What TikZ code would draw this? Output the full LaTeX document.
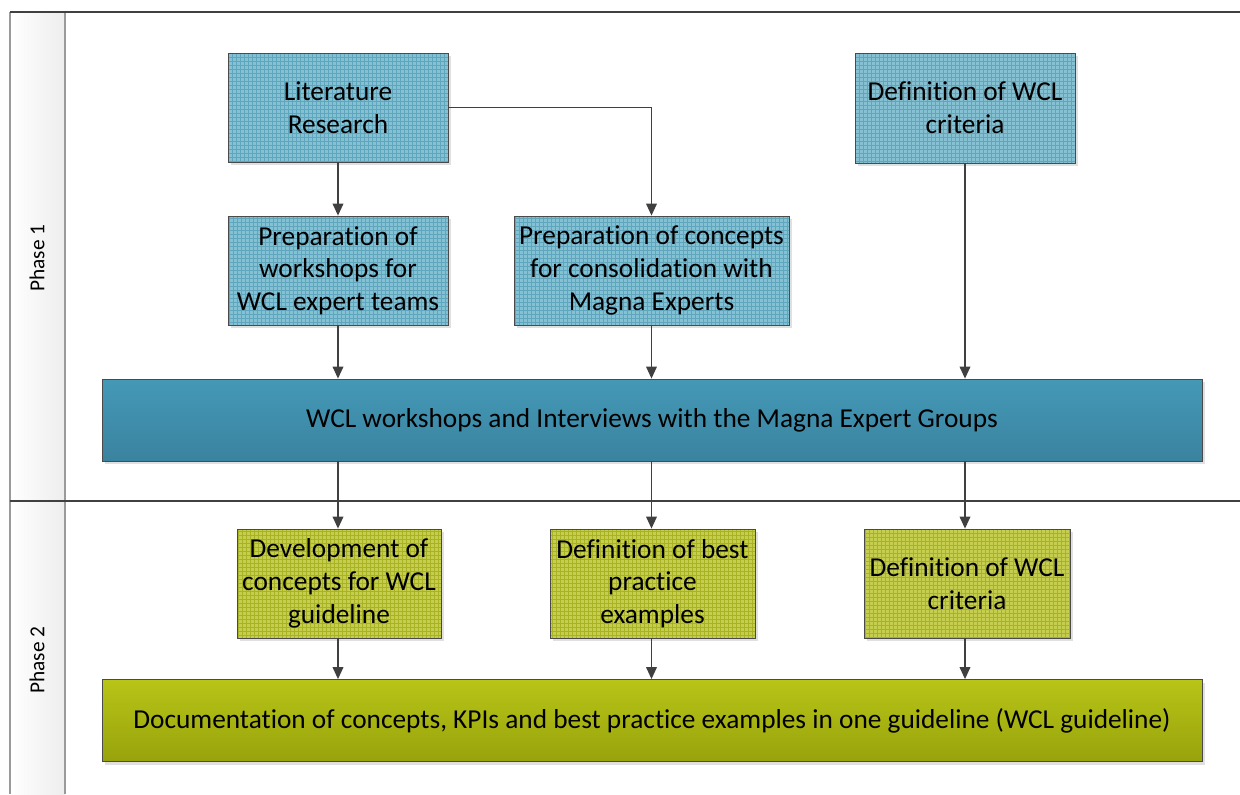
\documentclass[tikz,border=0pt]{standalone}
\usepackage{fontspec}
\setmainfont{Carlito}[Ligatures=NoCommon]
\usetikzlibrary{arrows.meta}
\definecolor{laneline}{HTML}{404040}
\definecolor{headline}{HTML}{9A9A9A}
\definecolor{blueface}{HTML}{86C0D3}
\definecolor{bluegrid}{HTML}{5EA5BE}
\definecolor{greenface}{HTML}{C6CE50}
\definecolor{greengrid}{HTML}{A8B222}
\definecolor{tealtop}{HTML}{4499B7}
\definecolor{tealbot}{HTML}{3A839F}
\definecolor{olivetop}{HTML}{B8C417}
\definecolor{olivebot}{HTML}{98A30C}
\definecolor{edge}{HTML}{4A4A4A}
\definecolor{arrowc}{HTML}{404040}
\tikzset{
  boxtext/.style={font=\fontsize{20.5}{24.5}\selectfont, align=center, text=black},
  shadowed/.style={preaction={fill=black!12, transform canvas={shift={(2.5pt,-2.5pt)}}}},
  gridbox/.style 2 args={boxtext, draw=edge, line width=0.6pt, fill=#1, shadowed,
    inner sep=2pt,
    path picture={\draw[#2, line width=0.35pt]
      (path picture bounding box.south west) grid[step=3pt]
      (path picture bounding box.north east);}},
  bluebox/.style={gridbox={blueface}{bluegrid}},
  greenbox/.style={gridbox={greenface}{greengrid}},
  bandbox/.style 2 args={boxtext, draw=edge, line width=0.6pt, shadowed,
    top color=#1, bottom color=#2, minimum width=825pt, minimum height=61.5pt},
  flow/.style={draw=arrowc, line width=1.1pt, -{Triangle[length=9pt,width=8pt]}},
  phase/.style={font=\fontsize{16}{18}\selectfont, rotate=90}
}
\begin{document}
\begin{tikzpicture}[x=0.75pt, y=-0.75pt]
\useasboundingbox (0,0) rectangle (1240,794);

% swimlane frame and header column
\shade[left color=white, right color=black!7] (10,12) rectangle (65,794);
\draw[headline, line width=1pt] (10,12) -- (10,794);
\draw[headline, line width=1pt] (65,12) -- (65,794);
\draw[laneline, line width=0.8pt] (10,12) -- (1240,12);
\draw[laneline, line width=0.8pt] (10,501) -- (1240,501);
\node[phase] (ph1) at (37,258) {Phase 1};
\node[phase] (ph2) at (37,660) {Phase 2};

% phase 1
\node[bluebox, minimum width=165pt, minimum height=81.75pt] (lit) at (338,107.5) {Literature\\Research};
\node[bluebox, minimum width=165pt, minimum height=82.5pt] (crit) at (965,108) {Definition of WCL\\criteria};
\node[bluebox, minimum width=165pt, minimum height=81.75pt] (wsprep) at (338,270.5) {Preparation of\\workshops for\\WCL expert teams};
\node[bluebox, minimum width=206.25pt, minimum height=81.75pt] (conc) at (651.5,270.5) {Preparation of concepts\\for consolidation with\\Magna Experts};
\node[bandbox={tealtop}{tealbot}] (work) at (652,420) {WCL workshops and Interviews with the Magna Expert Groups};

% phase 2
\node[greenbox, minimum width=153pt, minimum height=81.75pt] (dev) at (339,583.5) {Development of\\concepts for WCL\\guideline};
\node[greenbox, minimum width=153.75pt, minimum height=81.75pt] (best) at (652.5,583.5) {Definition of best\\practice\\examples};
\node[greenbox, minimum width=154.5pt, minimum height=81.75pt] (crit2) at (967,583.5) {Definition of WCL\\criteria};
\node[bandbox={olivetop}{olivebot}] (doc) at (652,720.5) {Documentation of concepts, KPIs and best practice examples in one guideline (WCL guideline)};

% connectors
\draw[flow] (lit.south) -- (wsprep.north);
\draw[flow] (lit.east) -| (conc.north);
\draw[flow] (crit.south) -- (crit.south |- work.north);
\draw[flow] (wsprep.south) -- (wsprep.south |- work.north);
\draw[flow] (conc.south) -- (conc.south |- work.north);
\draw[flow] (wsprep.south |- work.south) -- (dev.north -| wsprep.south);
\draw[flow] (conc.south |- work.south) -- (best.north -| conc.south);
\draw[flow] (crit.south |- work.south) -- (crit2.north -| crit.south);
\draw[flow] (dev.south -| wsprep.south) -- (doc.north -| wsprep.south);
\draw[flow] (best.south -| conc.south) -- (doc.north -| conc.south);
\draw[flow] (crit2.south -| crit.south) -- (doc.north -| crit.south);
\end{tikzpicture}
\end{document}
